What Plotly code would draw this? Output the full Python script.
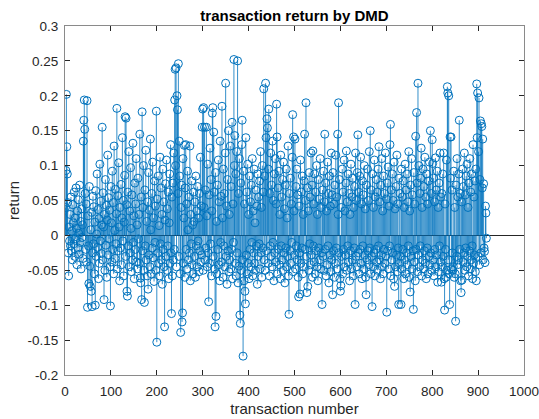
import plotly.graph_objects as go

# Return of each transaction (in thousandths)
seg_001_100 = [
    40, 93, 202, 127, 88, 47, -25, -58, 12, -8, 30, -15, 55, -22, 6, -35, 44, 18, -12, 62,
    -30, 25, -5, 68, 10, -42, 35, -18, 51, 3, -27, 72, -10, 20, -48, 38, -3, 15, -33, 135,
    165, 194, 152, 60, -20, 45, -38, 193, -103, 28, -15, -69, 70, -44, -73, 8, -80, 33, -102, -25,
    56, -12, 41, -55, 19, -100, 64, -30, 2, 88, -17, 37, -62, 24, -40, 102, -8, 49, -26, 15,
    155, -35, 61, 12, -92, 30, -50, 80, -14, 43, -60, 22, 115, -28, 54, -5, 36, -45, -101, 70,
]
seg_101_200 = [
    18, -38, 92, -20, 47, -55, 128, 7, -33, 66, -12, 31, 182, -48, 57, -22, 104, 12, -65, 40,
    -18, 73, -42, 25, 140, -8, 50, -58, 19, 86, 170, -30, 168, 44, -80, -87, 62, -15, 120, -45,
    35, -25, 97, 10, -52, 58, -35, 132, -10, 28, -62, 75, -20, 45, 110, -38, 15, -48, 82, -5,
    30, -40, 145, -61, -68, 55, -92, 177, -22, 40, 100, -50, -96, 65, -15, 122, -35, 20, -58, 48,
    -77, 90, -28, 36, -45, 138, 8, -55, 60, -18, 105, -32, 25, -66, 78, -10, 42, -50, 178, -153,
]
seg_201_300 = [
    52, -25, 85, -40, 14, -58, 112, -12, 68, -35, 30, -70, 95, -20, 48, -45, -131, 22, 74, -30,
    108, -50, 38, -15, 62, -62, 18, 88, -40, 130, -25, -112, 55, -58, 75, -35, 118, -20, 194, 238,
    100, 240, -45, 200, 180, 60, 246, -30, 135, 85, -55, -139, 40, 72, -124, -111, 110, -40, 25, 129,
    -60, 68, 130, -20, 45, -48, 92, 8, -35, 55, -25, 128, -65, 30, -12, 78, -42, 15, -55, 62,
    20, -30, 48, -60, 85, -15, 35, -45, 70, -8, 25, -52, 60, -22, 112, -38, 42, -28, 155, 181,
]
seg_301_400 = [
    -50, 183, 40, 155, -35, 65, -18, 155, 28, -45, 102, -25, -95, 58, -40, 125, -12, 80, -58, 35,
    175, 183, -30, 148, 62, -48, -131, 90, -116, 20, -55, 72, -20, 108, -42, 48, -65, 135, -10, 56,
    -38, 185, 25, -60, 95, -15, 60, -45, 118, 218, -30, 42, -70, 80, -22, 150, -52, 30, -35, 128,
    -48, 70, -20, 162, -62, 45, -10, 252, 100, 143, -40, 88, -58, 120, -25, 250, -68, 60, -44, 110,
    -114, -126, 75, -50, 130, 165, -35, -173, 92, -65, 45, -80, -98, 140, -28, 62, -55, 102, -40, 30,
]
seg_401_500 = [
    -62, 85, -20, 48, -45, 72, -10, 110, -58, 35, -25, 95, -40, 18, -50, 65, -15, 42, -70, 88,
    -30, 55, -12, 78, -48, 120, -25, 40, -60, 100, -18, 62, 210, -35, 85, -50, 218, 140, -22, 167,
    154, -40, 95, 181, -58, 60, -15, 118, -30, 72, -45, 135, -10, 50, -65, 88, -25, 110, -38, 45,
    188, 141, -55, 68, -20, 92, -42, 30, -62, 115, -15, 55, -35, 80, -50, 105, -25, 38, -68, 72,
    -18, 95, -45, 25, -30, 128, -58, -113, 60, -22, 82, -40, 45, -10, 112, 173, -52, 141, 35, -28,
]
seg_501_600 = [
    138, -48, 70, -15, 95, -35, 58, -60, -88, 42, -25, -84, 108, -40, 62, -18, 85, -55, 30, -45,
    78, 145, -20, 50, 190, -30, -82, 68, -73, 35, -50, 90, -12, 55, -42, 118, -28, 72, -60, 121,
    -15, 45, -38, 88, -55, 62, -22, 100, -45, 30, -65, 80, -18, 52, -35, 110, -48, 40, -25, -99,
    65, -30, 92, -50, 48, 145, -20, 75, -58, 35, -42, 105, -15, 60, -68, 85, -28, 42, -52, 118,
    -35, 58, -85, 90, -22, 45, -60, 72, -40, 115, -18, 55, -48, 145, 30, 190, -25, 80, -62, -80,
]
seg_601_700 = [
    -72, 40, -30, 95, -55, 62, -20, 108, -45, 35, -28, 75, 121, -50, 48, -15, 88, -38, 60, -65,
    30, -22, 102, -48, 55, -35, 82, -58, 40, -18, 70, -99, 118, -30, 50, -45, 90, 144, -25, 62,
    -55, 85, -20, 112, -40, 45, -62, 78, -15, 58, -48, 100, -28, 38, -60, -85, 72, -35, 95, -22,
    50, -42, 120, -18, 150, -55, 65, -30, -102, 88, -45, 40, -25, 108, -58, 55, -20, 80, -38, 62,
    -50, 95, -15, 127, -35, 48, -62, 72, -28, 110, -45, 35, -55, 85, -20, 60, -40, 118, -30, 52,
]
seg_701_800 = [
    -110, 75, -22, 98, -48, 42, -15, 130, 159, -58, 65, -35, 88, -25, 50, -62, 105, -73, 38, -45,
    70, -28, 115, -52, 45, -18, -99, 82, -40, 60, -30, -99, 95, -48, 55, -20, 78, -62, 40, -35,
    102, -55, 65, -25, 88, -42, 48, -15, 120, -60, 35, -81, 72, -30, 110, -48, 58, -22, -106, 90,
    -38, 45, -65, 142, -20, 176, 75, -52, 218, -28, 100, -45, 60, -15, 82, 125, -58, 40, -35, 95,
    -48, 70, -22, 112, -40, 55, -62, 88, -18, 45, -55, 78, -30, 105, -42, 150, -25, 60, -50, 137,
]
seg_801_918 = [
    103, -35, 82, -58, 48, -20, 111, -45, 65, -28, 92, -67, 40, -52, 75, -15, 118, -38, 55, -67,
    60, -45, 88, -30, 118, -62, -107, 45, -20, -60, 108, -50, 213, 204, -35, 200, -55, -99, 141, 82,
    141, -48, 65, -25, -50, -45, 92, -60, 40, -55, -123, 72, -30, 110, -42, 55, -35, 88, 165, -20,
    60, -65, -82, 48, -64, 95, -38, 70, -25, 118, -50, 58, -18, 85, -45, 102, -30, 40, -58, 75,
    -22, 110, -48, 62, -35, 88, -15, -62, 130, -40, 55, -28, 78, -52, 95, -65, 217, 140, 204, -30,
    120, 197, -42, 80, 164, -25, 160, 156, 68, 138, -35, 74, -18, -23, -39, 42, 32, -4,
]

x_tick_vals = [0, 100, 200, 300, 400, 500, 600, 700, 800, 900, 1000]
x_tick_text = ["0", "100", "200", "300", "400", "500", "600", "700", "800", "900", "1000"]
y_tick_vals = [-0.2, -0.15, -0.1, -0.05, 0, 0.05, 0.1, 0.15, 0.2, 0.25, 0.3]
y_tick_text = ["-0.2", "-0.15", "-0.1", "-0.05", "0", "0.05", "0.1", "0.15", "0.2", "0.25", "0.3"]

returns_milli = (seg_001_100 + seg_101_200 + seg_201_300 + seg_301_400 + seg_401_500
                 + seg_501_600 + seg_601_700 + seg_701_800 + seg_801_918)
ret = [v / 1000.0 for v in returns_milli]
idx = list(range(1, len(ret) + 1))

stem_x, stem_y = [], []
for xi, yi in zip(idx, ret):
    stem_x += [xi, xi, None]
    stem_y += [0, yi, None]

BLUE = "#0072BD"
FONT = "Liberation Sans, Arial, sans-serif"

fig = go.Figure()
fig.add_trace(go.Scatter(x=stem_x, y=stem_y, mode="lines",
                         line=dict(color=BLUE, width=0.8), hoverinfo="skip",
                         showlegend=False))
fig.add_trace(go.Scatter(x=idx, y=ret, mode="markers",
                         marker=dict(symbol="circle-open", size=8, color=BLUE,
                                     line=dict(width=1, color=BLUE)),
                         showlegend=False))

axis_common = dict(showgrid=False, showline=True, linecolor="#8a8a8a", linewidth=1.2,
                   mirror="ticks", ticks="inside", ticklen=5, tickcolor="#262626",
                   tickwidth=1, automargin=False, ticklabeloverflow="allow",
                   tickfont=dict(family=FONT, size=13.5, color="#262626"))

fig.update_layout(
    width=539, height=419,
    margin=dict(l=65, r=15, t=26, b=44),
    paper_bgcolor="white", plot_bgcolor="white",
    title=dict(text="<b>transaction return by DMD</b>", x=0.5, xref="paper",
               y=1 - 15.5 / 419, yref="container", yanchor="middle", xanchor="center",
               font=dict(family=FONT, size=15, color="black")),
    xaxis=dict(range=[0, 1000], tickvals=x_tick_vals, ticktext=x_tick_text,
               zeroline=False, ticklabelstandoff=4,
               title=dict(text="transaction number", standoff=5,
                          font=dict(family=FONT, size=15, color="#262626")),
               **axis_common),
    yaxis=dict(range=[-0.2, 0.3], tickvals=y_tick_vals, ticktext=y_tick_text,
               zeroline=True, zerolinecolor="#262626", zerolinewidth=1,
               ticklabelstandoff=3,
               title=dict(text="return", standoff=4,
                          font=dict(family=FONT, size=15, color="#262626")),
               **axis_common),
)

fig.write_html("out.html", config={"displayModeBar": False},
               post_script="document.body.style.margin='0';")
